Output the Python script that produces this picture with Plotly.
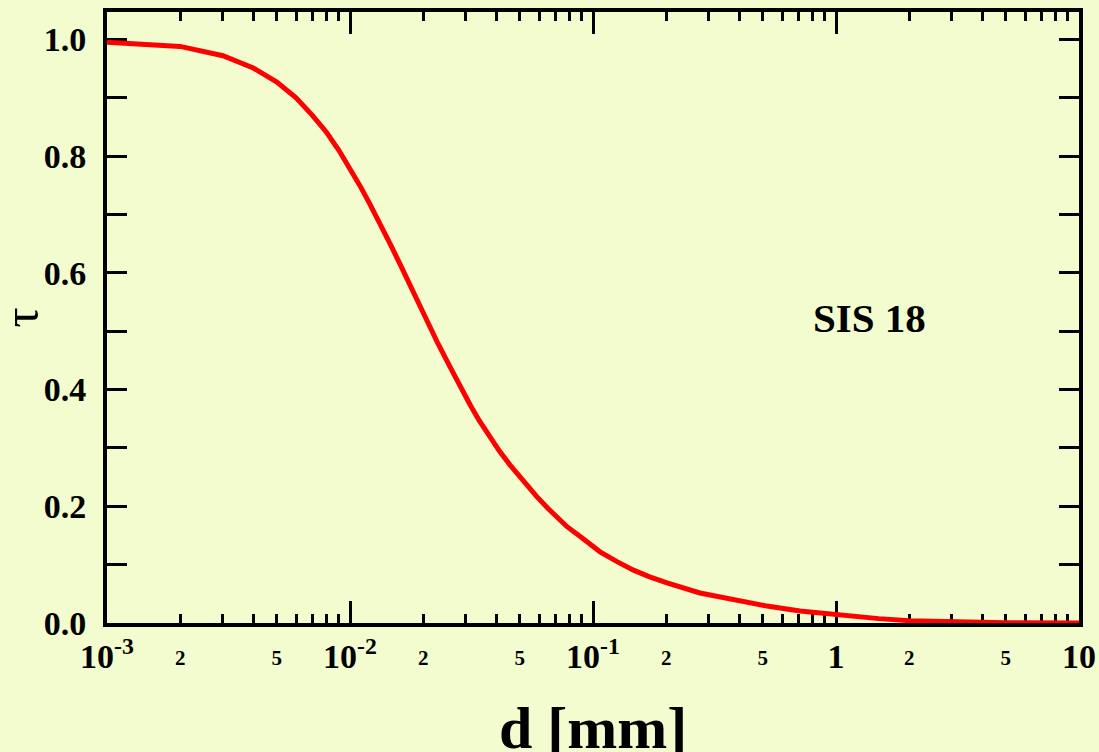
import plotly.graph_objects as go

# ---- data ----
d_mm = [0.001, 0.002, 0.003, 0.004, 0.005, 0.006, 0.007, 0.0075, 0.008, 0.009,
        0.010, 0.011, 0.012, 0.0133, 0.0147, 0.0161, 0.0175, 0.0188, 0.020,
        0.0213, 0.023, 0.0258, 0.028, 0.0312, 0.034, 0.0377, 0.041, 0.0455,
        0.050, 0.0586, 0.065, 0.0782, 0.090, 0.1069, 0.125, 0.146, 0.170,
        0.2017, 0.2755, 0.377, 0.520, 0.711, 1.0, 1.5, 2.0, 3.0, 5.0, 10.0]
tau = [0.995, 0.988, 0.972, 0.951, 0.927, 0.900, 0.870, 0.855, 0.841, 0.810,
       0.780, 0.749, 0.720, 0.685, 0.648, 0.614, 0.582, 0.555, 0.532,
       0.508, 0.479, 0.439, 0.410, 0.374, 0.347, 0.318, 0.296, 0.271,
       0.250, 0.217, 0.197, 0.165, 0.146, 0.122, 0.1055, 0.091, 0.0795,
       0.0686, 0.0515, 0.0395, 0.029, 0.0206, 0.014, 0.0075, 0.004, 0.0015,
       0.0003, 0.0]

major_x_vals = [0.001, 0.01, 0.1, 1, 10]
major_x_text = ["10<sup>-3</sup>", "10<sup>-2</sup>", "10<sup>-1</sup>", "1", "10"]
minor_label_vals = [0.002, 0.005, 0.02, 0.05, 0.2, 0.5, 2, 5]
minor_label_text = ["2", "5", "2", "5", "2", "5", "2", "5"]
decades = [0.001, 0.01, 0.1, 1]
minor_tick_vals = [m * dec for dec in decades for m in range(2, 10)]

bg = "#F2FCCE"
font_family = "Liberation Serif, Times New Roman, serif"

fig = go.Figure()
fig.add_trace(go.Scatter(x=d_mm, y=tau, mode="lines",
                         line=dict(color="#FF0000", width=5),
                         showlegend=False, hoverinfo="skip"))
# invisible trace for overlay axis carrying the small "2"/"5" labels
fig.add_trace(go.Scatter(x=[d_mm[0], d_mm[-1]], y=[0, 0], mode="lines",
                         line=dict(width=0), opacity=0, xaxis="x2",
                         showlegend=False, hoverinfo="skip"))

fig.update_layout(
    width=1099, height=752, autosize=False,
    margin=dict(l=107, r=20, t=12, b=129, autoexpand=False),
    paper_bgcolor=bg, plot_bgcolor=bg,
    font=dict(family=font_family, color="black"),
    xaxis=dict(
        type="log", range=[-3, 1], automargin=False, layer="below traces",
        tickmode="array", tickvals=major_x_vals, ticktext=major_x_text,
        ticks="inside", ticklen=22, tickwidth=3, tickcolor="black",
        minor=dict(tickmode="array", tickvals=minor_tick_vals, ticks="inside",
                   ticklen=9, tickwidth=3, tickcolor="black", showgrid=False),
        showline=True, linewidth=4, linecolor="black", mirror="allticks",
        showgrid=False, zeroline=False,
        tickfont=dict(size=34, weight="bold", family=font_family),
    ),
    xaxis2=dict(
        type="log", range=[-3, 1], overlaying="x", anchor="y", side="bottom",
        automargin=False,
        tickmode="array", tickvals=minor_label_vals, ticktext=minor_label_text,
        ticks="", showline=False, showgrid=False, zeroline=False,
        tickfont=dict(size=21, weight="bold", family=font_family),
        ticklabelstandoff=20,
    ),
    yaxis=dict(
        range=[0, 1.047], tickmode="linear", tick0=0, dtick=0.2,
        tickformat=".1f", automargin=False, layer="below traces",
        ticks="inside", ticklen=20, tickwidth=3, tickcolor="black",
        minor=dict(dtick=0.1, ticks="inside", ticklen=10, tickwidth=3,
                   tickcolor="black", showgrid=False),
        showline=True, linewidth=4, linecolor="black", mirror="allticks",
        showgrid=False, zeroline=False, ticklabelstandoff=10,
        tickfont=dict(size=34, weight="bold", family=font_family),
    ),
    annotations=[
        dict(text="d [mm]", xref="paper", yref="paper", x=0.5, y=0,
             yshift=-70, xanchor="center", yanchor="top", showarrow=False,
             font=dict(size=60, weight="bold", family=font_family)),
        dict(text="τ", xref="paper", yref="paper", x=-0.0886, y=0.5,
             xanchor="center", yanchor="middle", textangle=-90, showarrow=False,
             font=dict(size=50, family=font_family)),
        dict(text="SIS 18", xref="paper", yref="paper", x=0.784, y=0.5,
             xanchor="center", yanchor="middle", showarrow=False,
             font=dict(size=41, weight="bold", family=font_family)),
    ],
)

fig.write_html("out.html")
